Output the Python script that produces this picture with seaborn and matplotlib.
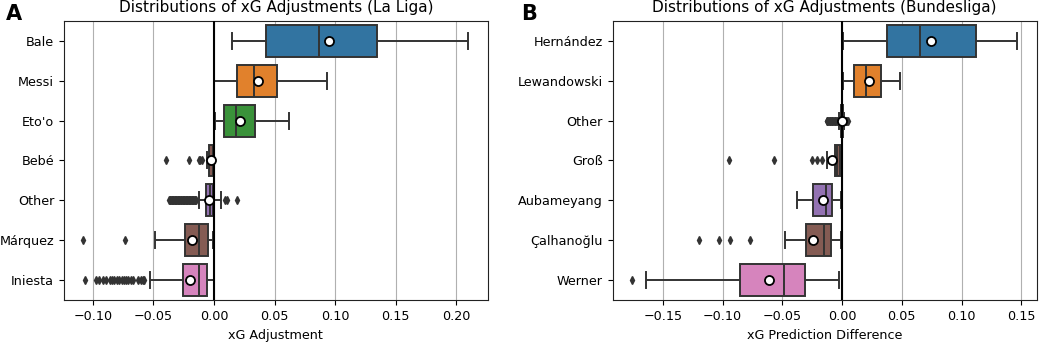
import numpy as np
import pandas as pd
import matplotlib
matplotlib.use("Agg")
import matplotlib.pyplot as plt
import seaborn as sns

# ---------------- Data ----------------
# Panel A: La Liga
players_a = ["Bale", "Messi", "Eto'o", "Bebé", "Other", "Márquez", "Iniesta"]
wlo_a = [0.015, 0.000, 0.001, -0.0062, -0.0126, -0.0489, -0.0528]
q1_a = [0.0426, 0.0187, 0.0080, -0.0040, -0.0066, -0.0237, -0.0253]
med_a = [0.0869, 0.0330, 0.0180, -0.0012, -0.0035, -0.0121, -0.0124]
q3_a = [0.1342, 0.0520, 0.0336, 0.0000, -0.0011, -0.0050, -0.0058]
whi_a = [0.2099, 0.0930, 0.0616, 0.0000, 0.0058, -0.0006, -0.0004]
mean_a = [0.0949, 0.0363, 0.0212, -0.0027, -0.0041, -0.0179, -0.0198]
out_a = [
    [],
    [],
    [],
    [-0.0399, -0.0209, -0.0125, -0.0113, -0.0102],
    [-0.0370, -0.0365, -0.0360, -0.0355, -0.0350, -0.0345, -0.0340,
     -0.0335, -0.0330, -0.0325, -0.0320, -0.0315, -0.0310, -0.0305,
     -0.0300, -0.0295, -0.0290, -0.0285, -0.0280, -0.0275, -0.0270,
     -0.0265, -0.0260, -0.0255, -0.0250, -0.0245, -0.0240, -0.0235,
     -0.0230, -0.0225, -0.0220, -0.0215, -0.0210, -0.0205, -0.0200,
     -0.0195, -0.0190, -0.0185, -0.0180, -0.0175, -0.0170, -0.0165,
     -0.0160, -0.0155, -0.0150,
     0.0093, 0.0103, 0.0190],
    [-0.1080, -0.0734],
    [-0.1064, -0.0976, -0.0949, -0.0913, -0.0894, -0.0858, -0.0839,
     -0.0823, -0.0803, -0.0784, -0.0762, -0.0745, -0.0729, -0.0707,
     -0.0687, -0.0666, -0.0625, -0.0605, -0.0588, -0.0575],
]

# Panel B: Bundesliga
players_b = ["Hernández", "Lewandowski", "Other", "Groß", "Aubameyang",
             "Çalhanoğlu", "Werner"]
wlo_b = [0.0006, 0.0010, -0.0024, -0.0125, -0.0374, -0.0480, -0.1644]
q1_b = [0.0372, 0.0104, -0.0008, -0.0061, -0.0240, -0.0302, -0.0851]
med_b = [0.0653, 0.0198, -0.0002, -0.0040, -0.0137, -0.0153, -0.0486]
q3_b = [0.1117, 0.0330, 0.0004, -0.0017, -0.0080, -0.0089, -0.0307]
whi_b = [0.1466, 0.0486, 0.0020, -0.0005, -0.0010, -0.0010, -0.0028]
mean_b = [0.0745, 0.0224, 0.0000, -0.0080, -0.0159, -0.0243, -0.0608]
out_b = [
    [],
    [],
    [-0.0128, -0.0122, -0.0116, -0.0110, -0.0104, -0.0098, -0.0092,
     -0.0086, -0.0080, -0.0074, -0.0068, -0.0062, -0.0056, -0.0050,
     -0.0044, -0.0038, -0.0032, 0.0030, 0.0036, 0.0042, 0.0048],
    [-0.0949, -0.0570, -0.0251, -0.0206, -0.0168],
    [],
    [-0.1194, -0.1033, -0.0935, -0.0770],
    [-0.1761],
]

box_colors = ["#1f77b4", "#ff7f0e", "#2ca02c", "#8c564b", "#9467bd",
              "#8c564b", "#e377c2"]

xticks_a = [-0.10, -0.05, 0.00, 0.05, 0.10, 0.15, 0.20]
xticks_b = [-0.15, -0.10, -0.05, 0.00, 0.05, 0.10, 0.15]
xlim_a = (-0.1238, 0.2258)
xlim_b = (-0.192, 0.163)

BLOCK = 100  # repeats per quartile value so the box statistics match


def build_frame(players, wlo, q1, med, q3, whi, outs):
    rows = []
    for i, p in enumerate(players):
        vals = list(outs[i]) + [wlo[i]] + [q1[i]] * BLOCK + [med[i]] * BLOCK \
            + [q3[i]] * BLOCK + [whi[i]]
        rows += [(p, v) for v in vals]
    return pd.DataFrame(rows, columns=["player", "value"])


df_a = build_frame(players_a, wlo_a, q1_a, med_a, q3_a, whi_a, out_a)
df_b = build_frame(players_b, wlo_b, q1_b, med_b, q3_b, whi_b, out_b)
means_a = pd.DataFrame({"player": players_a, "mean": mean_a})
means_b = pd.DataFrame({"player": players_b, "mean": mean_b})

plt.rcParams["font.family"] = ["DejaVu Sans"]
fig = plt.figure(figsize=(10.4, 3.42), dpi=100)
ax_a = fig.add_axes([0.0615, 0.122, 0.4075, 0.8175])
ax_b = fig.add_axes([0.589, 0.122, 0.408, 0.8175])

FS = 9.2
LINE = "#333333"


def draw(ax, df, means, players, xticks, xlim, title, xlabel):
    ax.grid(axis="x", color="#b0b0b0", linewidth=0.8, zorder=0)
    ax.set_axisbelow(True)
    sns.boxplot(data=df, x="value", y="player", hue="player", order=players,
                hue_order=players, palette=box_colors, legend=False,
                orient="h", width=0.8, linewidth=1.4, linecolor=LINE,
                whis=1.5,
                flierprops=dict(marker="d", markersize=3.8,
                                markerfacecolor=LINE, markeredgecolor=LINE),
                ax=ax)
    ax.axvline(0, color="black", linewidth=1.5, zorder=4)
    sns.pointplot(data=means, x="mean", y="player", order=players,
                  orient="h", linestyle="none", marker="o", color="white",
                  markeredgecolor="black", markerfacecolor="white",
                  markersize=6.5, markeredgewidth=1.3, errorbar=None,
                  zorder=6, ax=ax)
    ax.set_xticks(xticks)
    ax.set_xlim(*xlim)
    ax.set_title(title, fontsize=11)
    ax.set_xlabel(xlabel, fontsize=FS)
    ax.set_ylabel("")
    ax.tick_params(labelsize=FS)
    for s in ax.spines.values():
        s.set_color("#222222")


draw(ax_a, df_a, means_a, players_a, xticks_a, xlim_a,
     "Distributions of xG Adjustments (La Liga)", "xG Adjustment")
draw(ax_b, df_b, means_b, players_b, xticks_b, xlim_b,
     "Distributions of xG Adjustments (Bundesliga)", "xG Prediction Difference")

fig.text(0.006, 0.988, "A", fontsize=15, fontweight="bold", va="top", ha="left")
fig.text(0.501, 0.988, "B", fontsize=15, fontweight="bold", va="top", ha="left")

fig.savefig("out.png", dpi=100)
